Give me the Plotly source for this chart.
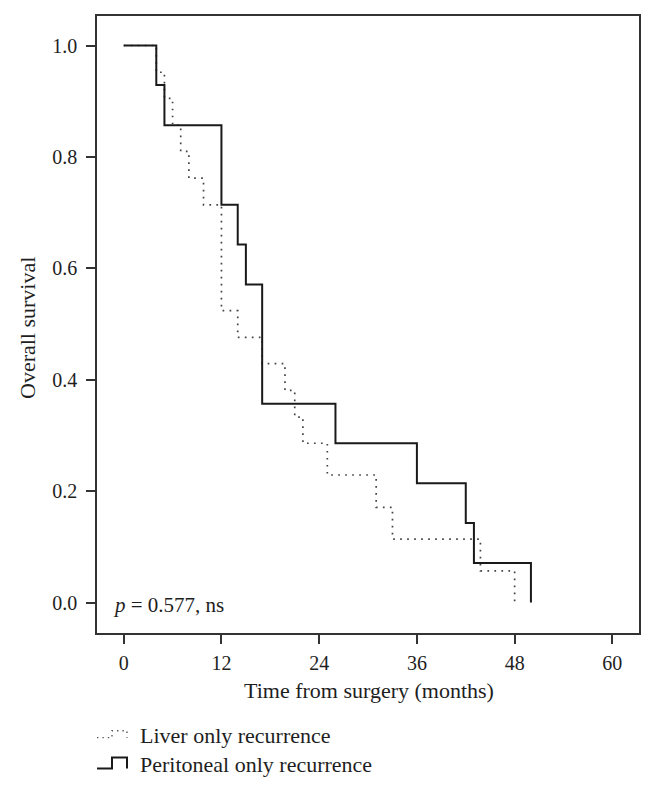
import plotly.graph_objects as go

# Data
liver_months = [0, 4, 5, 6, 7, 8, 9.8, 12, 14, 17, 19.8, 21, 22, 25, 31, 33, 43.8, 48]
liver_survival = [1.0, 0.952, 0.905, 0.857, 0.810, 0.762, 0.714, 0.524, 0.476, 0.429,
                  0.381, 0.333, 0.286, 0.229, 0.171, 0.114, 0.057, 0.0]
perit_months = [0, 4, 5, 12, 14, 15, 17, 26, 36, 42, 43, 50]
perit_survival = [1.0, 0.929, 0.857, 0.714, 0.643, 0.571, 0.357, 0.286, 0.214, 0.143, 0.071, 0.0]

x_ticks = [0, 12, 24, 36, 48, 60]
y_ticks = [0.0, 0.2, 0.4, 0.6, 0.8, 1.0]
series_names = ["Liver only recurrence", "Peritoneal only recurrence"]
p_text = "<i>p</i> = 0.577, ns"

OFF = 8  # page body margin
W, H = 653 - OFF, 788 - OFF
L, R, T, B = 97 - OFF, 14, 14 - OFF, 155
PW, PH = W - L - R, H - T - B
FONT = "Liberation Serif"
FS = 20
FS_TXT = 22
INK = "#1e1e1e"


def px(xp):
    return (xp - OFF - L) / PW


def py(yp):
    return (H - B - (yp - OFF)) / PH


fig = go.Figure()
fig.add_trace(go.Scatter(x=liver_months, y=liver_survival, mode="lines",
                         line=dict(shape="hv", color="#444444", width=1.7, dash="1.7px,5.3px"),
                         name=series_names[0], showlegend=False))
fig.add_trace(go.Scatter(x=perit_months, y=perit_survival, mode="lines",
                         line=dict(shape="hv", color="#1a1a1a", width=2),
                         name=series_names[1], showlegend=False))

axis_common = dict(showline=True, linecolor="#333333", linewidth=1.5, mirror=True,
                   ticks="outside", ticklen=9, tickwidth=1.5, tickcolor="#333333",
                   showgrid=False, zeroline=False,
                   tickfont=dict(family=FONT, size=FS, color=INK))

fig.update_xaxes(range=[-3.28, 63.27], tickvals=x_ticks, ticktext=[str(v) for v in x_ticks],
                 ticklabelstandoff=2, **axis_common)
fig.update_yaxes(range=[-0.0546, 1.053], tickvals=y_ticks, ticktext=[f"{v:.1f}" for v in y_ticks],
                 ticklabelstandoff=5, **axis_common)

annotations = [
    dict(text="Time from surgery (months)", xref="paper", yref="paper",
         x=px((240 + 497) / 2), y=py(691), xanchor="center", yanchor="middle",
         showarrow=False, font=dict(family=FONT, size=FS_TXT, color=INK)),
    dict(text="Overall survival", xref="paper", yref="paper", textangle=-90,
         x=px(28), y=py(327), xanchor="center", yanchor="middle",
         showarrow=False, font=dict(family=FONT, size=FS_TXT, color=INK)),
    dict(text=p_text, xref="paper", yref="paper",
         x=px(111), y=py(605), xanchor="left", yanchor="middle",
         showarrow=False, font=dict(family=FONT, size=21, color=INK)),
    dict(text=series_names[0], xref="paper", yref="paper",
         x=px(138), y=py(736), xanchor="left", yanchor="middle",
         showarrow=False, font=dict(family=FONT, size=FS_TXT, color=INK)),
    dict(text=series_names[1], xref="paper", yref="paper",
         x=px(138), y=py(765), xanchor="left", yanchor="middle",
         showarrow=False, font=dict(family=FONT, size=FS_TXT, color=INK)),
]


def path(points):
    return "M " + " L ".join(f"{px(a):.5f},{py(b):.5f}" for a, b in points)


shapes = [
    dict(type="path", xref="paper", yref="paper",
         path=path([(97, 738), (112, 738), (112, 731), (127, 731), (127, 738)]),
         line=dict(color="#555555", width=1.4, dash="1.4px,4px")),
    dict(type="path", xref="paper", yref="paper",
         path=path([(97, 769), (112, 769), (112, 758), (127, 758), (127, 769)]),
         line=dict(color="#1a1a1a", width=2)),
]

fig.update_layout(width=W, height=H, margin=dict(l=L, r=R, t=T, b=B),
                  plot_bgcolor="white", paper_bgcolor="white",
                  annotations=annotations, shapes=shapes, showlegend=False,
                  font=dict(family=FONT, size=FS, color=INK))

fig.write_html("out.html")
